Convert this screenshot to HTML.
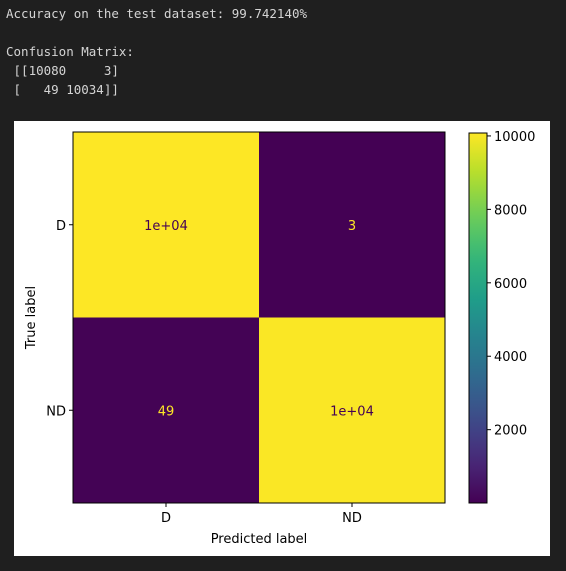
<!DOCTYPE html>
<html><head><meta charset="utf-8"><style>
body{margin:0;background:#1f1f1f;width:566px;height:571px;overflow:hidden;position:relative}
pre{position:absolute;left:6px;top:4px;margin:0;font-family:"DejaVu Sans Mono","Liberation Mono",monospace;font-size:12.5px;line-height:19px;color:#d4d4d4}
#fig{position:absolute;left:14px;top:121px;width:536px;height:435px;background:#fff}
</style></head><body>
<pre>Accuracy on the test dataset: 99.742140%

Confusion Matrix:
 [[10080     3]
 [   49 10034]]</pre>
<div id="fig"></div>
<svg id="svg" width="566" height="571" style="position:absolute;left:0;top:0" font-family="DejaVu Sans, Liberation Sans, sans-serif" font-size="13"></svg>
<script>
const classes=["D","ND"];
const values=[[10080,3],[49,10034]];
const labels=[["1e+04","3"],["49","1e+04"]];
const cbTicks=[2000,4000,6000,8000,10000];
const NS="http://www.w3.org/2000/svg";
const svg=document.getElementById('svg');
function el(t,a,p){const e=document.createElementNS(NS,t);for(const k in a)e.setAttribute(k,a[k]);(p||svg).appendChild(e);return e;}
const vir=[[68,1,84],[72,40,120],[62,74,137],[49,104,142],[38,130,142],[31,158,137],[53,183,121],[109,205,89],[180,222,44],[253,231,37]];
function cmap(t){t=Math.max(0,Math.min(1,t));const f=t*9,i=Math.min(8,Math.floor(f)),r=f-i;const a=vir[i],b=vir[i+1];return `rgb(${a.map((v,k)=>Math.round(v+(b[k]-v)*r)).join(',')})`;}
const all=values.flat();const vmin=Math.min(...all),vmax=Math.max(...all);
const X0=73,X1=445,Y0=132,Y1=503;
const cw=(X1-X0)/classes.length,ch=(Y1-Y0)/classes.length;
const xs=j=>X0+j*cw, ys=i=>Y0+i*ch;
values.forEach((row,i)=>row.forEach((v,j)=>{
 const t=(v-vmin)/(vmax-vmin);
 const r=el('rect',{x:xs(j),y:ys(i),width:cw,height:ch,fill:cmap(t)});
 
 
 const tx=el('text',{x:xs(j)+cw/2,y:ys(i)+ch/2+5,'text-anchor':'middle',fill:t>0.5?'#440154':'#fde725'});
 tx.textContent=labels[i][j];
 
 
}));
el('rect',{x:X0,y:Y0,width:X1-X0,height:Y1-Y0,fill:'none',stroke:'#000','stroke-width':1});
classes.forEach((c,k)=>{
 el('line',{x1:xs(k)+cw/2,x2:xs(k)+cw/2,y1:Y1,y2:Y1+4,stroke:'#000'});
 const t=el('text',{x:xs(k)+cw/2,y:Y1+19,'text-anchor':'middle',fill:'#000'});t.textContent=c;
 
 
 el('line',{x1:X0-4,x2:X0,y1:ys(k)+ch/2,y2:ys(k)+ch/2,stroke:'#000'});
 const u=el('text',{x:X0-7,y:ys(k)+ch/2+5,'text-anchor':'end',fill:'#000'});u.textContent=c;
 
 
});
const xl=el('text',{x:(X0+X1)/2,y:543,'text-anchor':'middle',fill:'#000'});xl.textContent='Predicted label';


const yl=el('text',{x:0,y:0,'text-anchor':'middle',fill:'#000',transform:`translate(35,${(Y0+Y1)/2}) rotate(-90)`});yl.textContent='True label';


const CX=469,CW=18,CY0=133,CY1=503;
const cy=v=>CY1-(v-vmin)/(vmax-vmin)*(CY1-CY0);
const defs=el('defs',{});const g=el('linearGradient',{id:'vg',x1:0,y1:1,x2:0,y2:0},defs);
for(let k=0;k<=20;k++)el('stop',{offset:k/20,'stop-color':cmap(k/20)},g);
const cb=el('rect',{x:CX,y:CY0,width:CW,height:CY1-CY0,fill:'url(#vg)',stroke:'#000','stroke-width':1});


cbTicks.forEach(v=>{
 el('line',{x1:CX+CW,x2:CX+CW+4,y1:cy(v),y2:cy(v),stroke:'#000'});
 const t=el('text',{x:CX+CW+7,y:cy(v)+5,fill:'#000'});t.textContent=v;
 
 
});
</script>
</body></html>
